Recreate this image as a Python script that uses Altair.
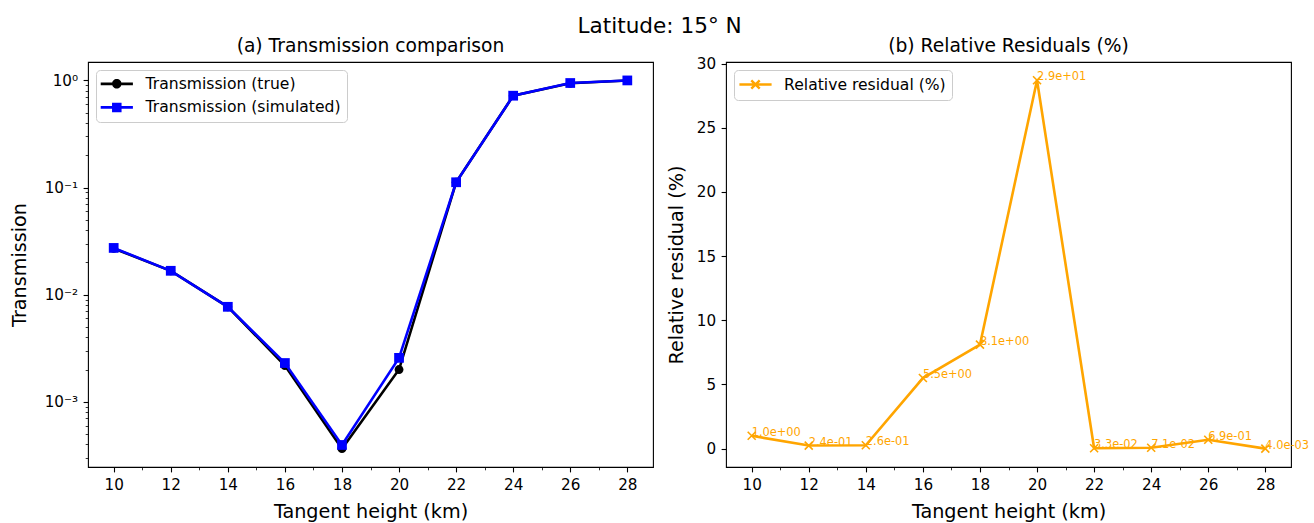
import altair as alt
import pandas as pd

# ---------------- data ----------------
heights = [10, 12, 14, 16, 18, 20, 22, 24, 26, 28]
trans_true = [0.0270, 0.0167, 0.0077, 0.00218, 0.000365, 0.00200, 0.112, 0.720, 0.940, 1.000]
trans_sim = [0.0273, 0.0167, 0.0077, 0.00230, 0.000395, 0.00257, 0.112, 0.720, 0.946, 1.000]
residual = [1.0, 0.24, 0.26, 5.5, 8.1, 28.7, 0.033, 0.071, 0.69, 0.004]
residual_labels = [f"{v:.1e}" for v in residual]

x_domain = [9.1, 28.9]
log_domain = [2.46e-4, 1.486]
res_domain = [-1.43, 30.12]

x_ticks = list(range(10, 29))
log_major = [1.0, 0.1, 0.01, 0.001]
log_minor = [v for v in (round(k * 10.0 ** e, 10) for e in (-4, -3, -2, -1) for k in range(2, 10))
             if log_domain[0] <= v <= log_domain[1]]
res_ticks = [0, 5, 10, 15, 20, 25, 30]

series_left = ["Transmission (true)", "Transmission (simulated)"]
series_right = ["Relative residual (%)"]

df = pd.DataFrame({
    "height": heights,
    "true": trans_true,
    "sim": trans_sim,
    "res": residual,
    "lab": residual_labels,
})
legend_left_df = pd.DataFrame({"series": series_left})
legend_right_df = pd.DataFrame({"series": series_right})

FONT = "DejaVu Sans"
TICK_PX = 15.2
LEG_PX = 15.6
LABEL_PX = 19.2
SUB_PX = 18.7
SUP_PX = 21.6

# legend symbol paths (line + marker), unit = 7 px for symbolSize 196
LINE = "M-2.3,-0.2L2.3,-0.2L2.3,0.2L-2.3,0.2Z"
CIRC = "M0.68,0A0.68,0.68,0,1,1,-0.68,0A0.68,0.68,0,1,1,0.68,0Z"
SQR = "M-0.68,-0.68L0.68,-0.68L0.68,0.68L-0.68,0.68Z"
XLEG = "M-2.3,0L2.3,0M-0.6,-0.6L0.6,0.6M-0.6,0.6L0.6,-0.6"
XMARK = "M-1,-1L1,1M-1,1L1,-1"

WL, WR, H = 565, 565, 405


def x_axis():
    return alt.Axis(
        title="Tangent height (km)",
        values=x_ticks,
        labelExpr="datum.value % 2 == 0 ? datum.label : ''",
        tickSize={"condition": {"test": "datum.value % 2 == 0", "value": 4.9}, "value": 2.8},
        tickWidth={"condition": {"test": "datum.value % 2 == 0", "value": 1.1}, "value": 0.8},
        grid=False, domain=False,
        labelFontSize=TICK_PX, titleFontSize=LABEL_PX,
        labelPadding=6, titlePadding=9.5,
        labelFlush=False, labelOverlap=False,
        labelColor="black", tickColor="black", titleColor="black",
        titleFontWeight="normal",
    )


xenc = alt.X("height:Q", scale=alt.Scale(domain=x_domain, nice=False, zero=False), axis=x_axis())


def make_legend(label_offset, stroke_w):
    return alt.Legend(
        title=None, orient="top-left", offset=7.5,
        fillColor="white", strokeColor="#cccccc", cornerRadius=4,
        padding=6, symbolSize=196, symbolOffset=7, labelOffset=label_offset,
        labelFontSize=LEG_PX, labelColor="black", labelLimit=500, rowPadding=6.6,
        symbolStrokeWidth=stroke_w,
    )


# ---------------- left panel ----------------
ylog_axis = alt.Axis(
    title="Transmission",
    values=log_major + log_minor,
    labelExpr="datum.value == 1 ? '10⁰' : datum.value == 0.1 ? '10⁻¹' : datum.value == 0.01 ? '10⁻²' : datum.value == 0.001 ? '10⁻³' : ''",
    tickSize={"condition": {"test": "indexof([1, 0.1, 0.01, 0.001], datum.value) >= 0", "value": 4.9}, "value": 2.8},
    tickWidth={"condition": {"test": "indexof([1, 0.1, 0.01, 0.001], datum.value) >= 0", "value": 1.1}, "value": 0.8},
    grid=False, domain=False,
    labelFontSize=TICK_PX, titleFontSize=LABEL_PX,
    labelPadding=5.5, titlePadding=15,
    labelFlush=False, labelOverlap=False,
    labelColor="black", tickColor="black", titleColor="black",
    titleFontWeight="normal",
)
ylog = alt.Scale(type="log", domain=log_domain, nice=False)

base_l = alt.Chart(df)
true_line = base_l.mark_line(color="black", strokeWidth=2.6).encode(
    x=xenc, y=alt.Y("true:Q", scale=ylog, axis=ylog_axis))
true_pts = base_l.mark_point(color="black", filled=True, shape="circle", size=78, opacity=1).encode(
    x=xenc, y=alt.Y("true:Q", scale=ylog))
sim_line = base_l.mark_line(color="blue", strokeWidth=2.6).encode(
    x=xenc, y=alt.Y("sim:Q", scale=ylog))
sim_pts = base_l.mark_point(color="blue", filled=True, shape="square", size=95, opacity=1).encode(
    x=xenc, y=alt.Y("sim:Q", scale=ylog))

legend_l = make_legend(21, 0)
leg_left = alt.Chart(legend_left_df).mark_point(filled=True, opacity=1).encode(
    color=alt.Color("series:N", scale=alt.Scale(domain=series_left, range=["black", "blue"]), legend=legend_l),
    shape=alt.Shape("series:N", scale=alt.Scale(domain=series_left, range=[LINE + CIRC, LINE + SQR]), legend=legend_l),
).transform_filter("false")

left = alt.layer(true_line, true_pts, sim_line, sim_pts, leg_left).properties(
    width=WL, height=H,
    title=alt.TitleParams("(a) Transmission comparison", fontSize=SUB_PX, font=FONT,
                          fontWeight="normal", color="black", offset=6.7),
)

# ---------------- right panel ----------------
yres_axis = alt.Axis(
    title="Relative residual (%)", values=res_ticks,
    tickSize=4.9, tickWidth=1.1,
    grid=False, domain=False,
    labelFontSize=TICK_PX, titleFontSize=LABEL_PX,
    labelPadding=5.5, titlePadding=9.6,
    labelFlush=False, labelOverlap=False,
    labelColor="black", tickColor="black", titleColor="black",
    titleFontWeight="normal",
)
yres = alt.Scale(domain=res_domain, nice=False, zero=False)

base_r = alt.Chart(df)
res_line = base_r.mark_line(color="orange", strokeWidth=2.6).encode(
    x=xenc, y=alt.Y("res:Q", scale=yres, axis=yres_axis))
res_pts = base_r.mark_point(color="orange", filled=False, shape=XMARK, size=64, strokeWidth=1.6, opacity=1).encode(
    x=xenc, y=alt.Y("res:Q", scale=yres))
res_txt = base_r.mark_text(color="orange", fontSize=11.4, font=FONT, align="left", baseline="alphabetic").encode(
    x=xenc, y=alt.Y("res:Q", scale=yres), text="lab:N")

legend_r = make_legend(20.1, 2.4)
leg_right = alt.Chart(legend_right_df).mark_point(filled=False, opacity=1, strokeWidth=2.4).encode(
    color=alt.Color("series:N", scale=alt.Scale(domain=series_right, range=["orange"]), legend=legend_r),
    shape=alt.Shape("series:N", scale=alt.Scale(domain=series_right, range=[XLEG]), legend=legend_r),
).transform_filter("false")

right = alt.layer(res_line, res_pts, res_txt, leg_right).properties(
    width=WR, height=H,
    title=alt.TitleParams("(b) Relative Residuals (%)", fontSize=SUB_PX, font=FONT,
                          fontWeight="normal", color="black", offset=0.6),
)

chart = alt.hconcat(left, right, spacing=13).resolve_scale(
    color="independent", shape="independent", y="independent"
).properties(
    title=alt.TitleParams("Latitude: 15° N", fontSize=SUP_PX, font=FONT, fontWeight="normal",
                          color="black", anchor="middle", offset=-1.3),
    padding={"left": 9, "top": 15, "right": 0, "bottom": 0},
).configure(font=FONT).configure_view(stroke="black", strokeWidth=1.1)

chart.save("out.html", embed_options={"renderer": "svg", "actions": False})
